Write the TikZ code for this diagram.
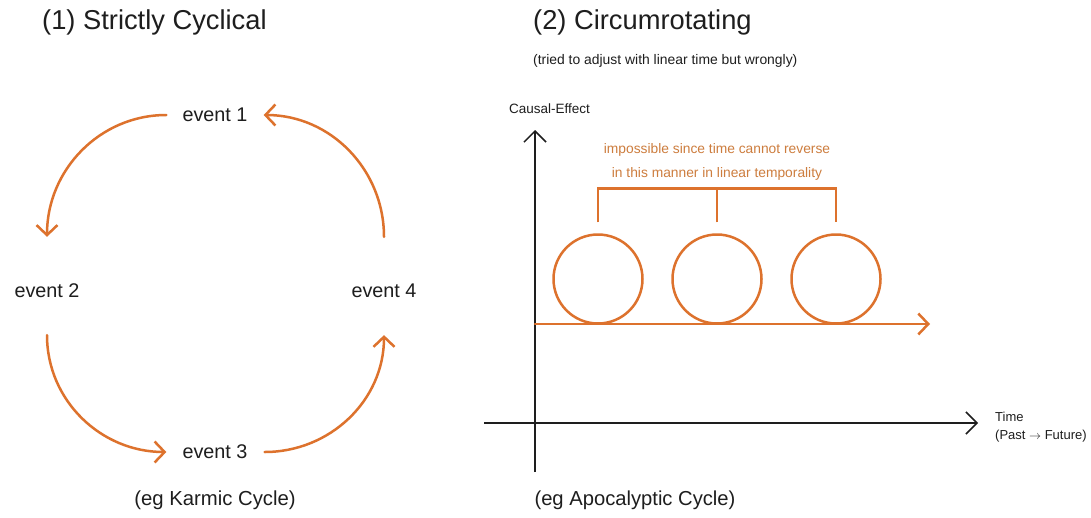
\documentclass[tikz,border=0pt]{standalone}
\usepackage{fontspec}
\setmainfont{Liberation Sans}
\usetikzlibrary{arrows.meta}
\definecolor{cycorange}{RGB}{221,114,45}
\definecolor{noteorange}{RGB}{205,125,62}
\definecolor{ink}{RGB}{30,30,30}
\tikzset{
  txt/.style={inner sep=0pt, text=ink},
  title/.style={txt, font=\fontsize{27.3}{32}\selectfont, anchor=west},
  evt/.style={txt, font=\fontsize{19.8}{22}\selectfont},
  small/.style={txt, font=\fontsize{13.5}{16}\selectfont},
  cyc/.style={draw=cycorange, line width=2.5pt, line cap=round},
  cyctip/.style={cyc, -{Straight Barb[length=10pt,width=21pt]}},
  axis/.style={draw=ink, line width=1.5pt, -{Straight Barb[length=11pt,width=22pt]}},
  loopcircle/.style={draw=cycorange, line width=2.5pt, circle, minimum size=89pt, inner sep=0pt},
}
\begin{document}
\begin{tikzpicture}[x=1pt,y=-1pt]
\path[use as bounding box, fill=white] (0,0) rectangle (1091,517);

% ---- titles ----
\node[title] (t1) at (42,22) {(1) Strictly Cyclical};
\node[title] (t2) at (533,22) {(2) Circumrotating};
\node[small, font=\fontsize{13.9}{16}\selectfont, anchor=west] (sub) at (533,61) {(tried to adjust with linear time but wrongly)};

% ---- (1) strictly cyclical ----
\node[evt] (e1) at (215,115) {event 1};
\node[evt] (e2) at (47,291) {event 2};
\node[evt] (e3) at (215,452) {event 3};
\node[evt] (e4) at (384,291) {event 4};

\draw[cyctip] ([xshift=-16pt]e1.west) to[out=180,in=90] ([yshift=47pt]e2.north);
\draw[cyctip] ([yshift=-37pt]e2.south) to[out=-90,in=180] ([xshift=-16pt]e3.west);
\draw[cyctip] ([xshift=17pt]e3.east) to[out=0,in=-90] ([yshift=-37pt]e4.south);
\draw[cyctip] ([yshift=47pt]e4.north) to[out=90,in=0] ([xshift=16pt]e1.east);

\node[evt, font=\fontsize{20.3}{22}\selectfont] (k) at (215,500) {(eg Karmic Cycle)};

% ---- (2) circumrotating ----
\coordinate (yb) at (535,472);
\coordinate (yt) at (535,130);
\coordinate (xl) at (484,423);
\coordinate (xr) at (978,423);
\draw[axis] (yb) -- (yt);
\draw[axis] (xl) -- (xr);

\node[small, anchor=south west] (ce) at (509,114) {Causal-Effect};
\node[small, anchor=west, align=left, font=\fontsize{13}{18}\selectfont] (time) at (995,427) {Time\\(Past \(\rightarrow\) Future)};

\coordinate (ol) at (535,324);
\coordinate (or) at (930,324);
\draw[cyctip] (ol) -- (or);

\node[loopcircle] (c1) at (598,279) {};
\node[loopcircle] (c2) at (717,279) {};
\node[loopcircle] (c3) at (836,279) {};

\draw[cyc, line cap=butt] ([yshift=11pt]c1.north) -- ++(0,-34) -| ([yshift=11pt]c3.north);
\draw[cyc, line cap=butt] ([yshift=11pt]c2.north) -- ++(0,-34);

\node[small, text=noteorange, align=center, font=\fontsize{13.8}{24}\selectfont] (imp) at (717,162)
  {impossible since time cannot reverse\\in this manner in linear temporality};

\node[evt, font=\fontsize{20.2}{22}\selectfont] (a) at (635,500) {(eg Apocalyptic Cycle)};
\end{tikzpicture}
\end{document}
